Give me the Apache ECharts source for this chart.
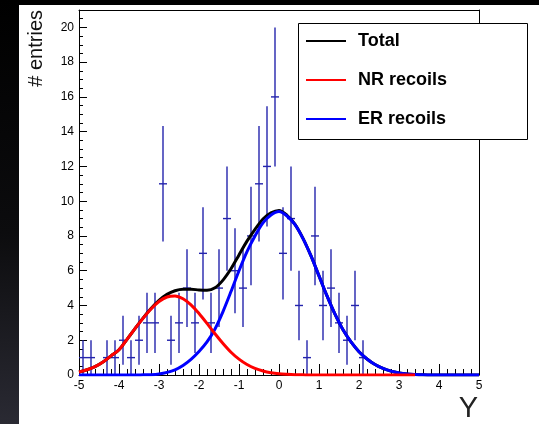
<!DOCTYPE html>
<html>
<head>
<meta charset="utf-8">
<script src="https://cdn.jsdelivr.net/npm/echarts@6/dist/echarts.min.js"></script>
<style>
  html, body { margin: 0; padding: 0; background: #ffffff; }
  #chart { width: 539px; height: 424px; }
</style>
</head>
<body>
<div id="chart"></div>
<script>
// ---- Histogram data (bin centers, counts, Poisson errors) ----
const binCenters = [-4.9,-4.7,-4.5,-4.3,-4.1,-3.9,-3.7,-3.5,-3.3,-3.1,
                    -2.9,-2.7,-2.5,-2.3,-2.1,-1.9,-1.7,-1.5,-1.3,-1.1,
                    -0.9,-0.7,-0.5,-0.3,-0.1,0.1,0.3,0.5,0.7,0.9,
                    1.1,1.3,1.5,1.7,1.9,2.1,2.3,2.5,2.7,2.9,
                    3.1,3.3,3.5,3.7,3.9,4.1,4.3,4.5,4.7,4.9];
const binCounts = [1,1,0,1,1,2,1,2,3,3,
                   11,2,3,5,3,7,3,5,9,6,
                   5,8,11,12,16,7,9,4,1,8,
                   4,5,3,2,4,1,0,0,0,0,
                   0,0,0,0,0,0,0,0,0,0];
const binErrors = [1,1,0,1,1,1.41,1,1.41,1.73,1.73,
                   3.32,1.41,1.73,2.24,1.73,2.65,1.73,2.24,3,2.45,
                   2.24,2.83,3.32,3.46,4,2.65,3,2,1,2.83,
                   2,2.24,1.73,1.41,2,1,0,0,0,0,
                   0,0,0,0,0,0,0,0,0,0];

// ---- Fit curves ----
const curveX = [-5.0,-4.8,-4.6,-4.4,-4.2,-4.0,-3.8,-3.6,-3.4,-3.2,
                -3.0,-2.8,-2.6,-2.4,-2.2,-2.0,-1.8,-1.6,-1.4,-1.2,
                -1.0,-0.8,-0.6,-0.4,-0.2,0.0,0.2,0.4,0.6,0.8,
                1.0,1.2,1.4,1.6,1.8,2.0,2.2,2.4,2.6,2.8,
                3.0,3.2,3.4,3.6,3.8,4.0,4.2,4.4,4.6,4.8,5.0];
const totalCurve = [0.17,0.30,0.48,0.75,1.10,1.45,2.05,2.67,3.27,3.82,
                    4.29,4.64,4.85,4.94,4.94,4.89,4.87,5.02,5.46,6.11,
                    6.91,7.70,8.38,8.98,9.33,9.47,9.19,8.67,7.86,6.85,
                    5.70,4.55,3.50,2.60,1.90,1.34,0.92,0.60,0.38,0.22,
                    0.12,0.06,0.03,0.01,0,0,0,0,0,0,0];
const nrCurve = [0.17,0.30,0.48,0.75,1.10,1.45,2.05,2.67,3.26,3.80,
                 4.23,4.49,4.55,4.39,4.04,3.54,2.97,2.37,1.81,1.31,
                 0.91,0.60,0.38,0.23,0.13,0.07,0.04,0.02,0.01,0,
                 0,0,0,0,0,0,0,0,0,0,
                 0,0,0,null,null,null,null,null,null,null,null];
const erCurve = [0,0,0,0,0,0,0,0,0.01,0.02,
                 0.06,0.15,0.30,0.55,0.90,1.35,1.90,2.65,3.65,4.80,
                 6.00,7.10,8.00,8.75,9.20,9.40,9.15,8.65,7.85,6.85,
                 5.70,4.55,3.50,2.60,1.90,1.34,0.92,0.60,0.38,0.22,
                 0.12,0.06,0.03,0.01,0,0,0,0,0,0,0];

// ---- Axis labels ----
const xTickLabelMax = 5;
const yTickLabelMax = 20;
const seriesNames = ['Total', 'NR recoils', 'ER recoils'];
const xTitle = 'Y';
const yTitle = '# entries';

const FONT = '"Liberation Sans", Arial, Helvetica, sans-serif';
const halfBin = (binCenters[1] - binCenters[0]) / 2;

function toPairs(xs, ys) {
  const out = [];
  for (let i = 0; i < xs.length; i++) {
    if (ys[i] !== null) out.push([xs[i], ys[i]]);
  }
  return out;
}

const histData = [];
for (let i = 0; i < binCenters.length; i++) {
  if (binCounts[i] > 0) histData.push([binCenters[i], binCounts[i], binErrors[i]]);
}

const chart = echarts.init(document.getElementById('chart'), null, { renderer: 'canvas' });

const frameAxisX = {
  type: 'value', min: -5, max: 5, position: 'top',
  axisLine: { show: true, onZero: false, lineStyle: { color: '#000', width: 1 } },
  axisTick: { show: false }, axisLabel: { show: false }, splitLine: { show: false }
};
const frameAxisY = {
  type: 'value', min: 0, max: 21, position: 'right',
  axisLine: { show: true, onZero: false, lineStyle: { color: '#000', width: 1 } },
  axisTick: { show: false }, axisLabel: { show: false }, splitLine: { show: false }
};

const option = {
  animation: false,
  backgroundColor: '#ffffff',
  grid: { left: 79, top: 10, right: 60, bottom: 49, show: false },
  xAxis: [{
    type: 'value', min: -5, max: 5, interval: 1, position: 'bottom',
    axisLine: { show: true, onZero: false, lineStyle: { color: '#000', width: 1 } },
    axisTick: { show: true, inside: true, length: 11, lineStyle: { color: '#000', width: 1 } },
    minorTick: { show: true, splitNumber: 5, length: 6, lineStyle: { color: '#000', width: 1 } },
    splitLine: { show: false },
    axisLabel: {
      show: true, margin: 5, color: '#000', fontSize: 12, fontFamily: FONT,
      showMinLabel: true, showMaxLabel: true,
      formatter: function (v) { return v > xTickLabelMax ? '' : String(v); }
    }
  }, frameAxisX],
  yAxis: [{
    type: 'value', min: 0, max: 21, interval: 2, position: 'left',
    axisLine: { show: true, onZero: false, lineStyle: { color: '#000', width: 1 } },
    axisTick: { show: true, inside: true, length: 8, lineStyle: { color: '#000', width: 1 } },
    minorTick: { show: true, splitNumber: 4, length: 4, lineStyle: { color: '#000', width: 1 } },
    splitLine: { show: false },
    axisLabel: {
      show: true, margin: 5, color: '#000', fontSize: 12, fontFamily: FONT,
      formatter: function (v) { return v > yTickLabelMax ? '' : String(v); }
    }
  }, frameAxisY],
  legend: {
    show: true, orient: 'vertical', left: 306, top: 32, z: 10,
    padding: 0, itemGap: 21, itemWidth: 40, itemHeight: 2, icon: 'rect',
    selectedMode: false,
    data: seriesNames,
    textStyle: { color: '#000', fontFamily: FONT, fontWeight: 'bold', fontSize: 18, lineHeight: 18, padding: [0, 0, 0, 7] }
  },
  graphic: [
    { type: 'rect', z: 0, shape: { x: 0, y: 0, width: 539, height: 5 }, style: { fill: '#000' } },
    { type: 'rect', z: 0, shape: { x: 0, y: 0, width: 19, height: 424 },
      style: { fill: new echarts.graphic.LinearGradient(0, 0, 0, 1, [
        { offset: 0, color: '#000000' }, { offset: 0.55, color: '#0c0c0e' }, { offset: 1, color: '#2a2a33' }
      ]) } },
    { type: 'rect', z: 5, shape: { x: 298.5, y: 23.5, width: 229, height: 116 },
      style: { fill: '#ffffff', stroke: '#000', lineWidth: 1 } },
    { type: 'text', z: 5, x: 36, y: 10, rotation: Math.PI / 2,
      style: { text: yTitle, fill: '#111', font: '20px ' + FONT, align: 'right', verticalAlign: 'middle' } },
    { type: 'text', z: 5, x: 478, y: 409,
      style: { text: xTitle, fill: '#222', font: '29px ' + FONT, align: 'right', verticalAlign: 'middle' } }
  ],
  series: [
    {
      type: 'custom', name: 'data', z: 2,
      data: histData,
      encode: { x: 0, y: 1 },
      renderItem: function (params, api) {
        const c = api.value(0), v = api.value(1), e = api.value(2);
        const top = api.coord([c, v + e]);
        const bot = api.coord([c, Math.max(v - e, 0)]);
        const l = api.coord([c - halfBin, v]);
        const r = api.coord([c + halfBin, v]);
        const st = { stroke: '#2424ad', lineWidth: 1.4 };
        return {
          type: 'group',
          children: [
            { type: 'line', shape: { x1: top[0], y1: top[1], x2: bot[0], y2: bot[1] }, style: st },
            { type: 'line', shape: { x1: l[0], y1: l[1], x2: r[0], y2: r[1] }, style: st }
          ]
        };
      }
    },
    {
      type: 'line', name: seriesNames[0], z: 3, color: '#000000',
      data: toPairs(curveX, totalCurve), showSymbol: false, smooth: 0.3,
      lineStyle: { color: '#000000', width: 3 }
    },
    {
      type: 'line', name: seriesNames[2], z: 4, color: '#0000ff',
      data: toPairs(curveX, erCurve), showSymbol: false, smooth: 0.3,
      lineStyle: { color: '#0000ff', width: 3 }
    },
    {
      type: 'line', name: seriesNames[1], z: 4, color: '#ff0000',
      data: toPairs(curveX, nrCurve), showSymbol: false, smooth: 0.3,
      lineStyle: { color: '#ff0000', width: 3 }
    }
  ]
};

chart.setOption(option);
</script>
</body>
</html>
